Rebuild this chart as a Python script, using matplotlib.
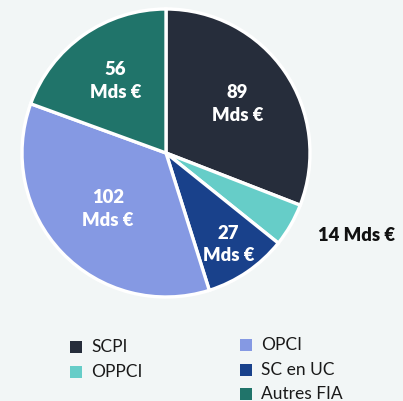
import matplotlib
matplotlib.use("Agg")
import matplotlib.pyplot as plt
from matplotlib.patches import Rectangle
import numpy as np

categories = ["SCPI", "OPPCI", "SC en UC", "OPCI", "Autres FIA"]
values = [89, 14, 27, 102, 56]
colors = ["#262d3b", "#66cdc8", "#19418b", "#8599e3", "#20746a"]
label_texts = ["89\nMds €", "14 Mds €", "27\nMds €", "102\nMds €", "56\nMds €"]
label_dist = [0.60, 1.22, 0.77, 0.56, 0.61]

BG = "#f2f6f6"
W, H = 403, 401
fig = plt.figure(figsize=(W / 100, H / 100), dpi=100, facecolor=BG)
plt.rcParams['font.family'] = ['Lato', 'DejaVu Sans']

# pie axes: centre (166,153) px, radius 144 px
cx, cy, r = 166, 153, 144
ax = fig.add_axes([(cx - r) / W, (H - (cy + r)) / H, 2 * r / W, 2 * r / H])
ax.set_facecolor(BG)
wedges, _ = ax.pie(values, colors=colors, startangle=90, counterclock=False,
                   wedgeprops=dict(edgecolor="white", linewidth=2.4, clip_on=False),
                   radius=1.0)
ax.set_xlim(-1.0, 1.0)
ax.set_ylim(-1.0, 1.0)
ax.set_aspect("equal")
ax.axis("off")

for i, w in enumerate(wedges):
    th = np.deg2rad((w.theta1 + w.theta2) / 2)
    d = label_dist[i]
    x, y = d * np.cos(th), d * np.sin(th)
    if i == 1:
        ax.text(x, y + 0.04, label_texts[i], color="#111111", fontsize=13.3, fontweight="heavy",
                ha="left", va="center", clip_on=False)
    else:
        ax.text(x, y, label_texts[i], color="white", fontsize=13.3, fontweight="heavy",
                ha="center", va="center", linespacing=1.4)

# legend, drawn manually in pixel coords
leg_pos = [(70, 347), (70, 372), (240, 370), (240, 345), (240, 394)]
for (lx, ly), c, name in zip(leg_pos, colors, categories):
    fig.patches.append(Rectangle((lx / W, (H - ly - 6) / H), 12 / W, 12 / H,
                                 transform=fig.transFigure, facecolor=c, edgecolor="none"))
    fig.text((lx + 21) / W, (H - ly) / H, name, fontsize=12.5, color="#1a1a1a",
             ha="left", va="center")

fig.savefig("out.png", dpi=100, facecolor=BG)
